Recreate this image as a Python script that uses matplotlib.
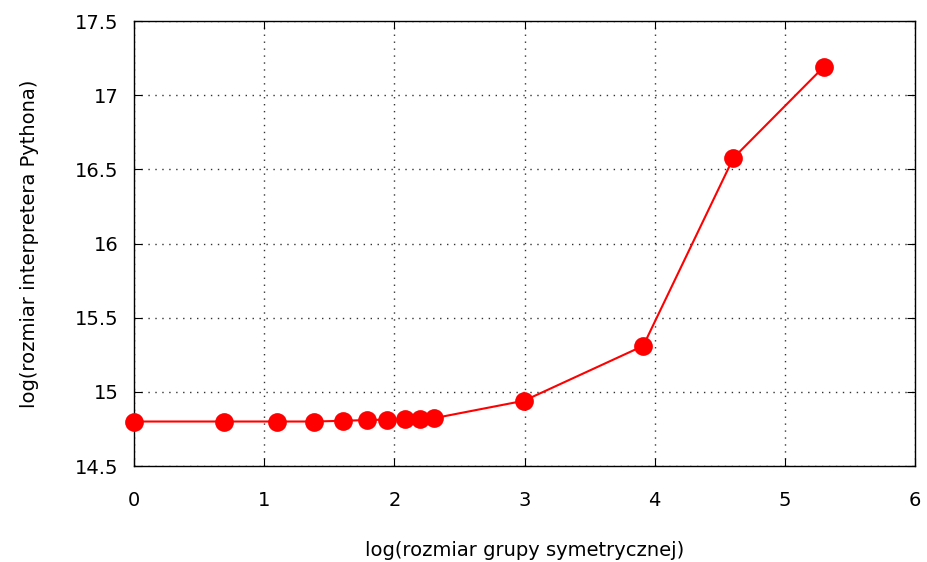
import numpy as np
import matplotlib
matplotlib.use("Agg")
import matplotlib.pyplot as plt
from matplotlib.ticker import FuncFormatter

# log of symmetric group size vs log of interpreter size
log_group = [0.0, 0.693, 1.099, 1.386, 1.609, 1.792, 1.946, 2.079, 2.197, 2.303,
             2.996, 3.912, 4.605, 5.298]
log_size = [14.80, 14.80, 14.80, 14.80, 14.805, 14.81, 14.812, 14.815, 14.82, 14.822,
            14.94, 15.31, 16.577, 17.19]

plt.rcParams['font.family'] = ['DejaVu Sans']

fig = plt.figure(figsize=(9.28, 5.62), dpi=100)
ax = fig.add_axes([0.1444, 0.1708, 0.8416, 0.7918])

ax.plot(log_group, log_size, color='red', lw=1.5, marker='o', ms=13.5,
        markeredgewidth=0, clip_on=False, zorder=3)

ax.set_xlim(0, 6)
ax.set_ylim(14.5, 17.5)
ax.set_xticks(range(0, 7))
ax.set_yticks(np.arange(14.5, 17.51, 0.5))
ax.yaxis.set_major_formatter(FuncFormatter(lambda v, p: '%g' % v))

ax.grid(True, color='#333333', linestyle=(0, (1, 4)), linewidth=1)
ax.tick_params(direction='in', top=True, right=True, length=6, width=0.8,
               labelsize=14)
ax.tick_params(axis='x', pad=18)
ax.tick_params(axis='y', pad=11)
for s in ax.spines.values():
    s.set_linewidth(1)

ax.set_xlabel('log(rozmiar grupy symetrycznej)', fontsize=14, labelpad=22)
ax.set_ylabel('log(rozmiar interpretera Pythona)', fontsize=14, labelpad=26)

fig.savefig('out.png', dpi=100)
